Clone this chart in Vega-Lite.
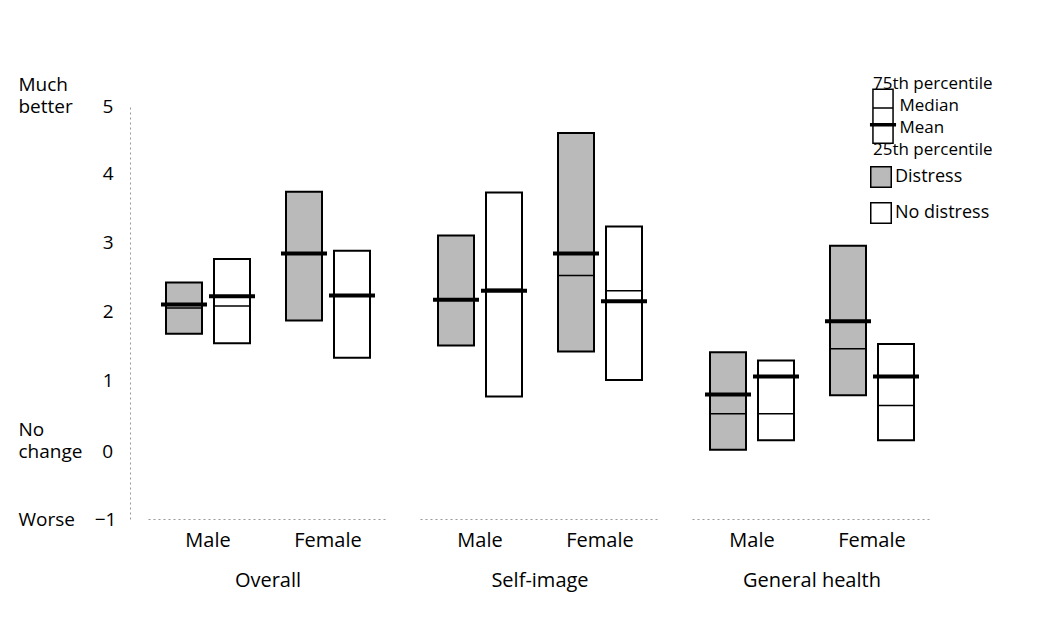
{
  "$schema": "https://vega.github.io/schema/vega-lite/v6.json",
  "padding": {"left": 18, "top": 68, "right": 5, "bottom": 5},
  "background": "white",
  "data": {"values": [
    {"group": "Overall", "sex": "Male", "distress": "Distress", "q1": 1.68, "q3": 2.42, "median": 2.05, "mean": 2.10},
    {"group": "Overall", "sex": "Male", "distress": "No distress", "q1": 1.54, "q3": 2.76, "median": 2.08, "mean": 2.22},
    {"group": "Overall", "sex": "Female", "distress": "Distress", "q1": 1.87, "q3": 3.73, "median": 2.84, "mean": 2.84},
    {"group": "Overall", "sex": "Female", "distress": "No distress", "q1": 1.33, "q3": 2.88, "median": 2.23, "mean": 2.23},
    {"group": "Self-image", "sex": "Male", "distress": "Distress", "q1": 1.51, "q3": 3.10, "median": 2.17, "mean": 2.17},
    {"group": "Self-image", "sex": "Male", "distress": "No distress", "q1": 0.77, "q3": 3.72, "median": 2.32, "mean": 2.30},
    {"group": "Self-image", "sex": "Female", "distress": "Distress", "q1": 1.42, "q3": 4.58, "median": 2.52, "mean": 2.84},
    {"group": "Self-image", "sex": "Female", "distress": "No distress", "q1": 1.01, "q3": 3.23, "median": 2.30, "mean": 2.15},
    {"group": "General health", "sex": "Male", "distress": "Distress", "q1": 0.0, "q3": 1.41, "median": 0.52, "mean": 0.80},
    {"group": "General health", "sex": "Male", "distress": "No distress", "q1": 0.14, "q3": 1.29, "median": 0.52, "mean": 1.06},
    {"group": "General health", "sex": "Female", "distress": "Distress", "q1": 0.79, "q3": 2.95, "median": 1.46, "mean": 1.86},
    {"group": "General health", "sex": "Female", "distress": "No distress", "q1": 0.14, "q3": 1.53, "median": 0.64, "mean": 1.06}
  ]},
  "facet": {
    "column": {
      "field": "group", "type": "nominal",
      "sort": ["Overall", "Self-image", "General health"],
      "header": {"labelOrient": "bottom", "title": null, "labelFont": "Open Sans", "labelFontSize": 20, "labelPadding": 21, "labelColor": "black"}
    }
  },
  "spacing": 32,
  "spec": {
    "width": 240,
    "height": 415,
    "encoding": {
      "x": {
        "field": "sex", "type": "nominal", "sort": ["Male", "Female"],
        "scale": {"paddingInner": 0.3, "paddingOuter": 0.15},
        "axis": {"title": null, "ticks": false, "labelAngle": 0, "labelFont": "Open Sans", "labelFontSize": 20, "labelColor": "black", "labelPadding": 11, "domainColor": "#999999", "domainDash": [2, 3]}
      },
      "xOffset": {"field": "distress", "type": "nominal", "sort": ["Distress", "No distress"], "scale": {"paddingInner": 0.25, "paddingOuter": 0}}
    },
    "layer": [
      {
        "mark": {"type": "bar", "strokeWidth": 2},
        "encoding": {
          "y": {
            "field": "q1", "type": "quantitative",
            "scale": {"domain": [-1, 5], "nice": false},
            "axis": {
              "values": [-1, 0, 1, 2, 3, 4, 5], "title": null, "grid": false, "ticks": false, "tickSize": 0, "offset": 18,
              "domainColor": "#999999", "domainDash": [2, 3],
              "labelFont": "Open Sans", "labelFontSize": 19, "labelColor": "black", "labelOverlap": false, "labelLimit": 250,
              "labelExpr": "datum.value == 5 ? ['Much', 'better\u00a0\u00a0\u00a0\u00a0\u00a0\u00a05'] : datum.value == 0 ? ['No', 'change\u00a0\u00a0\u00a0\u00a00'] : datum.value == -1 ? 'Worse\u00a0\u00a0\u00a0\u00a0\u22121' : '' + datum.value",
              "labelAlign": {"condition": {"test": "datum.value == 5 || datum.value == 0 || datum.value == -1", "value": "left"}, "value": "right"},
              "labelPadding": {"condition": {"test": "datum.value == 5 || datum.value == 0 || datum.value == -1", "value": 112}, "value": 17},
              "labelOffset": {"condition": {"test": "datum.value == 5 || datum.value == 0", "value": -20}, "value": 0}
            }
          },
          "y2": {"field": "q3"},
          "fill": {
            "field": "distress", "type": "nominal",
            "scale": {"domain": ["Distress", "No distress"], "range": ["#bababa", "#ffffff"]},
            "legend": {"title": null, "orient": "none", "legendX": 722, "legendY": 62, "symbolType": "square", "symbolSize": 420, "symbolStrokeColor": "black", "symbolStrokeWidth": 1.5, "labelFont": "Open Sans", "labelFontSize": 18, "labelOffset": 3, "rowPadding": 8, "labelColor": "black"}
          },
          "stroke": {
            "datum": "box", "type": "nominal",
            "scale": {"range": ["black"]},
            "legend": {"title": null, "orient": "none", "legendX": 719, "legendY": -36,
              "symbolType": "M-0.67,0.35H0.67V3.95H-0.67Z M-0.67,1.6H0.67 M-0.87,2.65H0.87 M-0.87,2.71H0.87 M-0.87,2.78H0.87",
              "symbolSize": 900, "symbolStrokeWidth": 1.5, "symbolFillColor": "white", "symbolStrokeColor": "black",
              "labelExpr": "['75th percentile', '\u200b\u00a0\u00a0\u00a0\u00a0\u00a0\u00a0Median', '\u200b\u00a0\u00a0\u00a0\u00a0\u00a0\u00a0Mean', '25th percentile']",
              "labelFont": "Open Sans", "labelFontSize": 17, "labelOffset": -26, "labelLimit": 300, "labelColor": "black"}
          }
        }
      },
      {
        "mark": {"type": "tick", "thickness": 1.5, "size": 36, "color": "black", "opacity": 1},
        "encoding": {"y": {"field": "median", "type": "quantitative"}}
      },
      {
        "mark": {"type": "tick", "thickness": 4, "size": 46, "color": "black", "opacity": 1},
        "encoding": {"y": {"field": "mean", "type": "quantitative"}}
      }
    ]
  },
  "config": {
    "view": {"stroke": null},
    "font": "Open Sans",
    "style": {"guide-label": {"lineHeight": 22}}
  }
}
